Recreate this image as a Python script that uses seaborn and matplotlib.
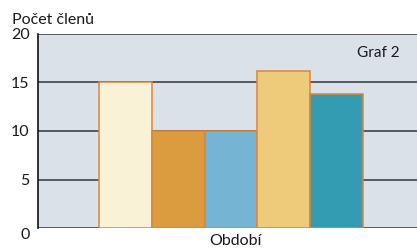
import matplotlib
matplotlib.use("Agg")
import matplotlib.pyplot as plt
import matplotlib.transforms as mtransforms
import seaborn as sns

# values
periods = ["1", "2", "3", "4", "5"]
members = [15, 10, 10, 16.2, 13.8]
bar_colors = ["#F9F2D6", "#DB9C40", "#76B4D4", "#EDCB7B", "#339BB2"]
y_ticks = [0, 5, 10, 15, 20]

sns.set_style("white")
plt.rcParams["font.family"] = ["Lato", "DejaVu Sans"]

fig = plt.figure(figsize=(4.17, 2.49), dpi=100)
ax = fig.add_axes([38 / 417, 21 / 249, 379 / 417, 194 / 249])
ax.set_facecolor("#DAE1E8")

sns.barplot(x=periods, y=members, hue=periods, palette=bar_colors,
            width=1.0, legend=False, edgecolor="#DD8538", linewidth=1.1,
            saturation=1, ax=ax, zorder=3)

ax.set_ylim(0, 20)
ax.set_xlim(-1.66, 5.53)
ax.set_yticks(y_ticks)
ax.set_yticklabels([str(t) for t in y_ticks], fontsize=11.5, color="#1a1a1a")
ax.set_xticks([])

# horizontal grid lines behind bars
ax.yaxis.grid(True, color="#4a4f55", linewidth=1.3, zorder=0)
ax.set_axisbelow(True)

for side in ["top", "right", "bottom"]:
    ax.spines[side].set_visible(False)
ax.spines["left"].set_color("#111111")
ax.spines["left"].set_linewidth(1.2)
ax.tick_params(axis="y", length=3, width=1.2, color="#111111", pad=3)

# the "0" label sits a bit lower than the others
lbl0 = ax.get_yticklabels()[0]
lbl0.set_transform(lbl0.get_transform() +
                   mtransforms.ScaledTranslation(0, -5 / 100, fig.dpi_scale_trans))

ax.set_xlabel("Období", fontsize=11.5, color="#1a1a1a")
ax.xaxis.set_label_coords(0.522, -0.03)
ax.xaxis.label.set_va("top")
ax.set_ylabel("")

ax.text(0.955, 0.9, "Graf 2", transform=ax.transAxes, ha="right", va="center",
        fontsize=11, color="#1a1a1a")
fig.text(12 / 417, 1 - 20 / 249, "Počet členů", ha="left", va="center",
         fontsize=11.5, color="#1a1a1a")

fig.savefig("out.png", dpi=100)
